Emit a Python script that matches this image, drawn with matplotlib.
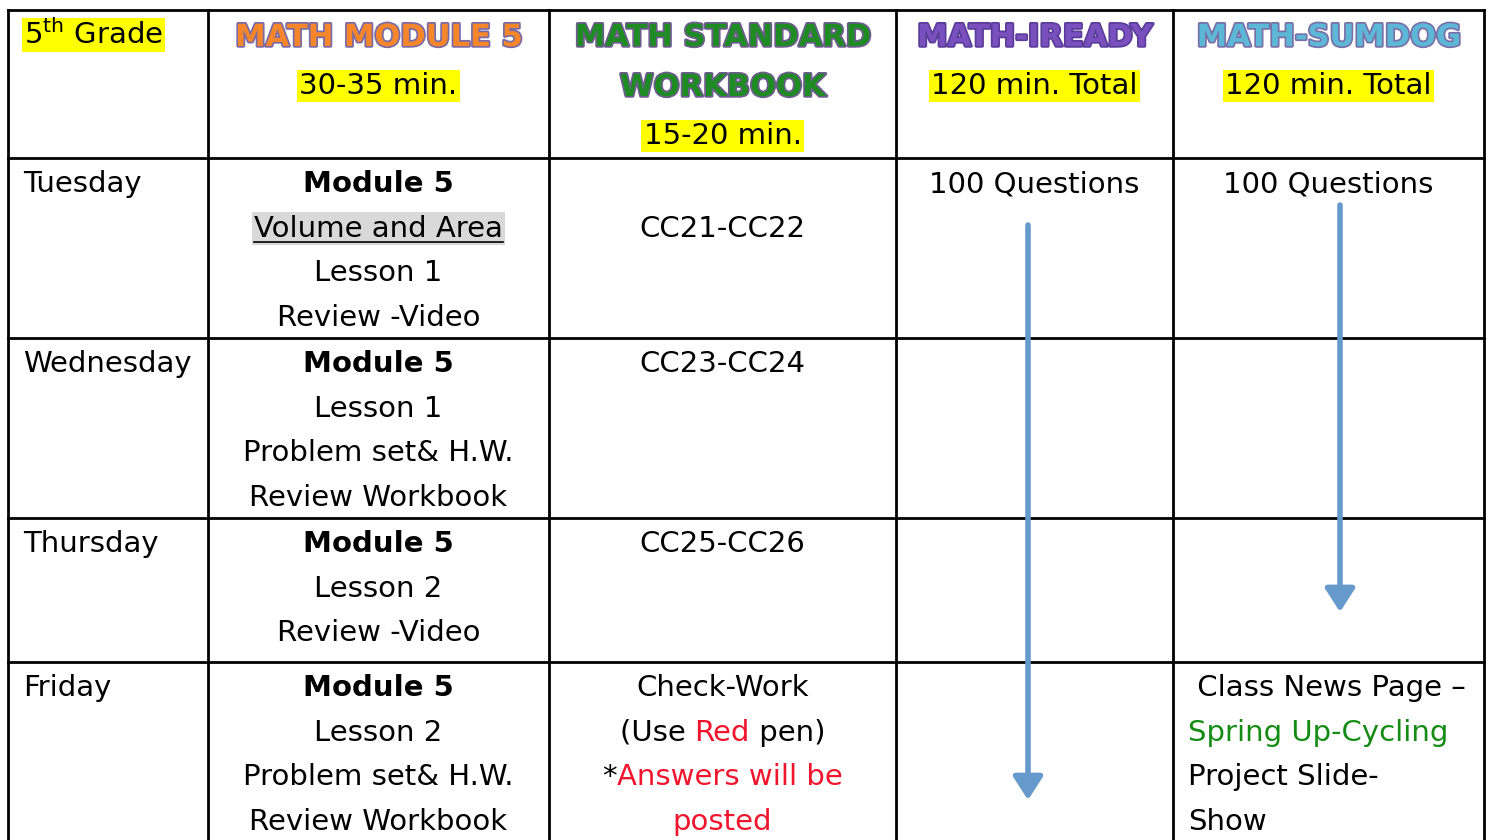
import matplotlib.pyplot as plt
import matplotlib.patheffects as pe

W, H = 1489, 840

# table content
header_titles = ["", "MATH MODULE 5", "MATH STANDARD\nWORKBOOK", "MATH-IREADY", "MATH-SUMDOG"]
title_fill = ["", "#F5862A", "#1E8C23", "#7A50BE", "#5DB7D6"]
title_edge = ["", "#7A6AA8", "#6E5C8E", "#5A3C9A", "#7A70A8"]
header_times = ["", "30-35 min.", "15-20 min.", "120 min. Total", "120 min. Total"]
days = ["Tuesday", "Wednesday", "Thursday", "Friday"]

BLACK, RED, GREEN = "black", "#F0142C", "#148C14"

module_cells = [
    ["*Module 5", "~Volume and Area", "Lesson 1", "Review -Video"],
    ["*Module 5", "Lesson 1", "Problem set& H.W.", "Review Workbook"],
    ["*Module 5", "Lesson 2", "Review -Video"],
    ["*Module 5", "Lesson 2", "Problem set& H.W.", "Review Workbook"],
]
workbook_cells = [
    ["", "CC21-CC22"],
    ["CC23-CC24"],
    ["CC25-CC26"],
    ["Check-Work",
     [("(Use ", BLACK), ("Red", RED), (" pen)", BLACK)],
     [("*", BLACK), ("Answers will be", RED)],
     [("posted", RED)]],
]
iready_cells = [["100 Questions"], [], [], []]
sumdog_cells = [["100 Questions"], [], [],
                [[(" Class News Page \u2013", BLACK)],
                 [("Spring Up-Cycling", GREEN)],
                 "Project Slide-", "Show"]]
sumdog_align = ["center", "center", "center", "left"]

# continuation arrows: (column, x, start y, end y)
arrows = [(3, 1028, 225, 800), (4, 1340, 205, 612)]

# layout
col_edges = [8, 208, 549, 896, 1173, 1484]
row_edges = [10, 158, 338, 518, 662, 860]
line_gap = 44.7
first_line = 25
base_off = 9
body_size = 21

plt.rcParams['font.family'] = ['DejaVu Sans']
plt.rcParams['mathtext.fontset'] = 'custom'
plt.rcParams['mathtext.rm'] = 'DejaVu Sans'

fig = plt.figure(figsize=(W / 100, H / 100), dpi=100)
ax = fig.add_axes([0, 0, 1, 1])
ax.set_xlim(0, W)
ax.set_ylim(H, 0)
ax.axis('off')
renderer = fig.canvas.get_renderer()


def draw_line(x, y, parts, ha='center', size=body_size, weight='normal', bbox=None):
    if isinstance(parts, str):
        parts = [(parts, BLACK)]
    texts, widths = [], []
    for s, c in parts:
        t = ax.text(0, y, s, color=c, fontsize=size, fontweight=weight,
                    ha='left', va='baseline', bbox=bbox)
        texts.append(t)
        widths.append(t.get_window_extent(renderer).width)
    total = sum(widths)
    x0 = x - total / 2 if ha == 'center' else x
    start = x0
    for t, w in zip(texts, widths):
        t.set_x(x0)
        x0 += w
    return start, total


def draw_cell(col, row, lines, ha='center'):
    top = row_edges[row]
    for i, line in enumerate(lines):
        if line == "" or line == []:
            continue
        y = top + first_line + i * line_gap + base_off
        weight, bbox = 'normal', None
        if isinstance(line, str) and line.startswith("*") and len(line) > 1 and line[1] != "A":
            line, weight = line[1:], 'bold'
        if isinstance(line, str) and line.startswith("~"):
            line = line[1:]
            bbox = dict(boxstyle='square,pad=0.08', fc='#D9D9D9', ec='none')
        if ha == 'center':
            x = (col_edges[col] + col_edges[col + 1]) / 2
        else:
            x = col_edges[col] + 15
        x0, w = draw_line(x, y, line, ha=ha, weight=weight, bbox=bbox)
        if bbox is not None:
            ax.plot([x0, x0 + w], [y + 5, y + 5], color='black', lw=1.2, zorder=5)


# header row
draw_line(24, first_line + row_edges[0] + base_off, r"5$^{\mathrm{th}}$ Grade", ha='left',
          bbox=dict(boxstyle='square,pad=0.06', fc='yellow', ec='none'))
for c in range(1, 5):
    xc = (col_edges[c] + col_edges[c + 1]) / 2
    n = 0
    for j, s in enumerate(header_titles[c].split("\n")):
        y = row_edges[0] + first_line + j * 50 + 11
        ax.text(xc, y, s, color=title_fill[c], fontsize=22, fontweight='bold',
                ha='center', va='baseline',
                path_effects=[pe.withStroke(linewidth=2.5, foreground=title_edge[c])])
        n = j + 1
    y = row_edges[0] + first_line + n * 50 + base_off
    draw_line(xc, y, header_times[c],
              bbox=dict(boxstyle='square,pad=0.08', fc='yellow', ec='none'))

# body rows
for r in range(4):
    draw_cell(0, r + 1, [days[r]], ha='left')
    draw_cell(1, r + 1, module_cells[r])
    draw_cell(2, r + 1, workbook_cells[r])
    draw_cell(3, r + 1, iready_cells[r])
    draw_cell(4, r + 1, sumdog_cells[r], ha=sumdog_align[r])

# grid lines
for x in col_edges:
    ax.plot([x, x], [row_edges[0], row_edges[-1]], color='black', lw=2)
for y in row_edges[:-1]:
    ax.plot([col_edges[0], col_edges[-1]], [y, y], color='black', lw=2)

for col, x, y0, y1 in arrows:
    ax.annotate('', xy=(x, y1), xytext=(x, y0),
                arrowprops=dict(arrowstyle='-|>,head_width=0.45,head_length=0.7',
                                mutation_scale=20, color='#6699CC', lw=4,
                                shrinkA=0, shrinkB=0))

fig.savefig('out.png', dpi=100)
